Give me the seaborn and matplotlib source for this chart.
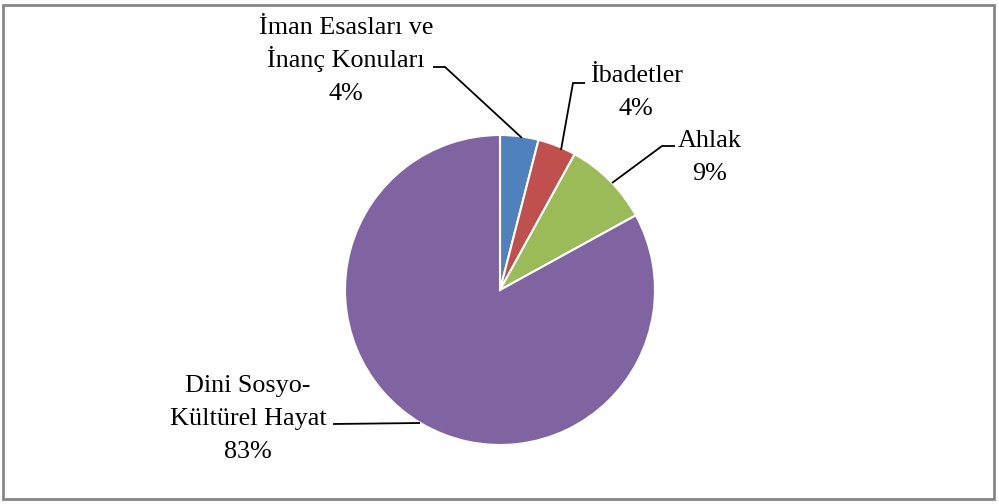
import matplotlib
matplotlib.use("Agg")
import matplotlib.pyplot as plt
import seaborn as sns
from matplotlib.patches import Rectangle

categories = [["İman Esasları ve", "İnanç Konuları"], ["İbadetler"], ["Ahlak"], ["Dini Sosyo-", "Kültürel Hayat"]]
values = [4, 4, 9, 83]
pct_labels = ["4%", "4%", "9%", "83%"]
colors = ["#4F81BD", "#C0504D", "#9BBB59", "#8064A2"]

sns.set_theme(style="white")
plt.rcParams['font.family'] = ['Liberation Serif', 'DejaVu Serif']

W, H = 999, 504
fig = plt.figure(figsize=(W / 100, H / 100), dpi=100)
ax = fig.add_axes([0, 0, 1, 1])

cx, cy, r = 500, H - 290, 155
wedges, _ = ax.pie(values, colors=colors, startangle=90, counterclock=False,
                   center=(cx, cy), radius=r, frame=True,
                   wedgeprops=dict(edgecolor='white', linewidth=1.5))
ax.set_xlim(0, W)
ax.set_ylim(0, H)
ax.set_aspect('equal')
ax.axis('off')

# label layout: centre x, baseline of last line (image px, y down)
label_pos = [(346, 100), (636, 115), (710, 180), (248, 458)]
line_step = 33
leaders = [
    [(433, 67), (445, 67), (522, 138)],
    [(585, 83), (573, 83), (561, 150)],
    [(675, 146), (662, 146), (612, 183)],
    [(333, 424), (420, 423)],
]
for cat, pct, (lx, lb), pts in zip(categories, pct_labels, label_pos, leaders):
    lines = cat + [pct]
    n = len(lines)
    for i, t in enumerate(lines):
        yb = lb - (n - 1 - i) * line_step
        ax.text(lx, H - yb, t, ha='center', va='baseline',
                fontsize=18.8, color='black')
    xs = [p[0] for p in pts]
    ys = [H - p[1] for p in pts]
    ax.plot(xs, ys, color='black', lw=1.3, solid_capstyle='butt')

fig.patches.append(Rectangle((3 / W, 5 / H), (994 - 3) / W, (499 - 5) / H,
                             transform=fig.transFigure, fill=False,
                             edgecolor='#868686', lw=2))
fig.savefig("out.png", dpi=100, facecolor='white')
